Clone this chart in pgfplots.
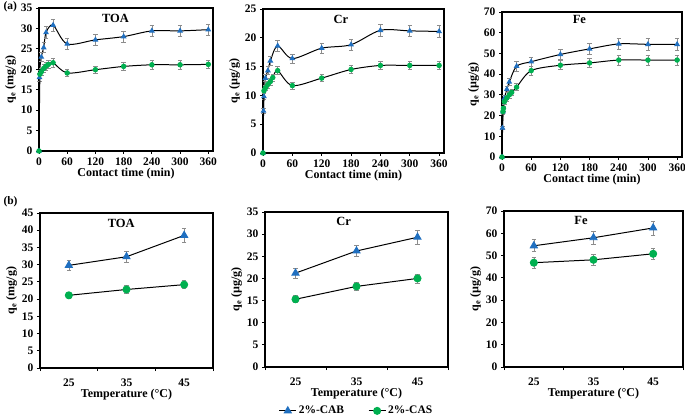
\documentclass[border=0pt]{standalone}
\usepackage{pgfplots}
\pgfplotsset{compat=1.18}
\usepackage{fontspec}
\setmainfont{Liberation Serif}
\definecolor{cab}{HTML}{1F6FC0}
\definecolor{cas}{HTML}{00B050}
\definecolor{eb}{HTML}{8C8C8C}
\tikzset{ttl/.style={font=\fontsize{12.5bp}{14bp}\selectfont\bfseries}}
\pgfplotsset{
  common/.style={scale only axis, axis line style={line width=1.1pt},
    /pgf/number format/assume math mode=true,
    tick label style={font=\fontsize{11.5bp}{13bp}\selectfont\bfseries},
    label style={font=\fontsize{12bp}{14bp}\selectfont\bfseries},
    tick style={black, line width=0.8pt}, major tick length=3bp, tick align=outside,
    xtick pos=bottom, ytick pos=left, ymin=0, clip=false,
    ylabel style={yshift=-2bp}, xlabel style={yshift=4bp}},
  top/.style={common, xmin=0, xmax=370, xtick={0,60,...,360}, xlabel={Contact time (min)}},
  bot/.style={common, xmin=20, xmax=50, xtick={20,30,40,50}, xticklabels={},
    extra x ticks={25,35,45}, extra x tick style={major tick length=0pt},
    xticklabel style={yshift=-7bp}, xlabel style={yshift=3bp},
    xlabel={Temperature (\textdegree C)}},
  ebar/.style={error bars/.cd, y dir=both, y explicit,
    error bar style={eb, line width=0.6pt},
    error mark options={eb, rotate=90, mark size=2.2bp, line width=0.6pt}},
  cabS/.style={black, line width=1pt, smooth, mark=triangle*, mark size=2.4bp,
    mark options={draw=cab, fill=cab, solid}, ebar},
  casS/.style={black, line width=1pt, smooth, mark=*, mark size=2.2bp,
    mark options={draw=cas, fill=cas, solid}, ebar},
  cabB/.style={black, line width=1pt, mark=triangle*, mark size=4bp,
    mark options={draw=cab, fill=cab, solid}, ebar},
  casB/.style={black, line width=1pt, mark=*, mark size=3.5bp,
    mark options={draw=cas, fill=cas, solid}, ebar},
}
\begin{document}
\begin{tikzpicture}
\useasboundingbox (0,0) rectangle (685bp,415bp);
\node[anchor=west, font=\fontsize{11.5bp}{13bp}\selectfont\bfseries] at (0bp,408bp) {(a)};
\node[anchor=west, font=\fontsize{11.5bp}{13bp}\selectfont\bfseries] at (0bp,213bp) {(b)};
% ---------- top TOA
\begin{axis}[top, at={(39bp,264bp)}, anchor=south west, width=174bp, height=143bp,
  ymax=35, ytick={0,5,...,35}, ylabel={q\textsubscript{e} (mg/g)}]
\addplot[cabS] table[x=t,y=v,y error=e] {
t v e
0 0 0
1 18.0 0.9
5 23.0 1.1
10 25.3 1.2
15 29.0 1.4
30 30.8 1.5
60 26.2 1.3
120 27.2 1.3
180 28.0 1.4
240 29.4 1.4
300 29.4 1.4
360 29.7 1.4
};
\addplot[casS] table[x=t,y=v,y error=e] {
t v e
0 0 0
2 18.8 0.9
5 19.4 0.9
10 20.2 1.0
15 20.8 1.0
20 21.2 1.0
30 21.6 1.0
60 19.1 0.9
120 19.9 0.9
180 20.7 1.0
240 21.1 1.0
300 21.1 1.0
360 21.2 1.0
};
\node[ttl] at (rel axis cs:0.44,0.93) {TOA};
\end{axis}
% ---------- top Cr
\begin{axis}[top, at={(263bp,262bp)}, anchor=south west, width=181bp, height=144bp,
  ymax=25, ytick={0,5,...,25}, ylabel={q\textsubscript{e} (µg/g)}]
\addplot[cabS] table[x=t,y=v,y error=e] {
t v e
0 0 0
1 7.3 0.4
2 9.8 0.5
5 13.0 0.6
10 14.3 0.7
15 16.0 0.8
30 18.6 0.9
60 16.4 0.8
120 18.2 0.9
180 18.8 0.9
240 21.3 1.0
300 21.2 1.0
360 21.1 1.0
};
\addplot[casS] table[x=t,y=v,y error=e] {
t v e
0 0 0
2 10.8 0.5
5 11.3 0.5
10 11.9 0.6
15 12.4 0.6
20 13.1 0.6
30 14.3 0.7
60 11.7 0.6
120 13.0 0.6
180 14.5 0.7
240 15.2 0.7
300 15.2 0.7
360 15.2 0.7
};
\node[ttl] at (rel axis cs:0.43,0.93) {Cr};
\end{axis}
% ---------- top Fe
\begin{axis}[top, at={(502bp,258bp)}, anchor=south west, width=180bp, height=145bp,
  ymax=70, ytick={0,10,...,70}, ylabel={q\textsubscript{e} (µg/g)}]
\addplot[cabS] table[x=t,y=v,y error=e] {
t v e
0 0 0
1 14.0 0.7
2 21.9 1.1
5 28.3 1.4
10 32.7 1.6
15 36.2 1.8
30 43.8 2.2
60 46.0 2.3
120 49.5 2.5
180 52.2 2.6
240 54.6 2.7
300 54.4 2.7
360 54.4 2.7
};
\addplot[casS] table[x=t,y=v,y error=e] {
t v e
0 0 0
2 22.0 1.1
3 23.5 1.2
5 26.7 1.3
10 28.5 1.4
15 30.0 1.5
20 31.2 1.6
30 33.7 1.7
60 41.7 2.1
120 44.3 2.2
180 45.4 2.3
240 46.8 2.3
300 46.8 2.3
360 46.8 2.3
};
\node[ttl] at (rel axis cs:0.43,0.95) {Fe};
\end{axis}
% ---------- bottom TOA
\begin{axis}[bot, at={(40bp,47bp)}, anchor=south west, width=173bp, height=155bp,
  ymax=45, ytick={0,5,...,45}, ylabel={q\textsubscript{e} (mg/g)}]
\addplot[cabB] table[x=t,y=v,y error=e] {
t v e
25 29.8 1.5
35 32.3 1.6
45 38.5 2.0
};
\addplot[casB] table[x=t,y=v,y error=e] {
t v e
25 21.1 1.0
35 22.8 1.1
45 24.2 1.2
};
\node[ttl] at (rel axis cs:0.47,0.93) {TOA};
\end{axis}
% ---------- bottom Cr
\begin{axis}[bot, at={(265bp,48bp)}, anchor=south west, width=183bp, height=155bp,
  ymax=35, ytick={0,5,...,35}, ylabel={q\textsubscript{e} (µg/g)},
  legend columns=2,
  legend style={draw=none, at={(0.5,-0.283)}, anchor=center,
    font=\fontsize{11.5bp}{13bp}\selectfont\bfseries, inner sep=1bp,
    /tikz/every even column/.append style={column sep=22bp}}]
\addplot[cabB] table[x=t,y=v,y error=e] {
t v e
25 21.2 1.1
35 26.2 1.3
45 29.3 1.5
};
\addlegendentry{2\%-CAB}
\addplot[casB] table[x=t,y=v,y error=e] {
t v e
25 15.3 0.8
35 18.2 0.9
45 20.0 1.0
};
\addlegendentry{2\%-CAS}
\node[ttl] at (rel axis cs:0.43,0.94) {Cr};
\end{axis}
% ---------- bottom Fe
\begin{axis}[bot, at={(504bp,48bp)}, anchor=south west, width=179bp, height=156bp,
  ymax=70, ytick={0,10,...,70}, ylabel={q\textsubscript{e} (µg/g)}]
\addplot[cabB] table[x=t,y=v,y error=e] {
t v e
25 54.4 2.7
35 58.0 2.9
45 62.4 3.1
};
\addplot[casB] table[x=t,y=v,y error=e] {
t v e
25 46.8 2.3
35 48.1 2.4
45 50.8 2.5
};
\node[ttl] at (rel axis cs:0.43,0.94) {Fe};
\end{axis}
\end{tikzpicture}
\end{document}
